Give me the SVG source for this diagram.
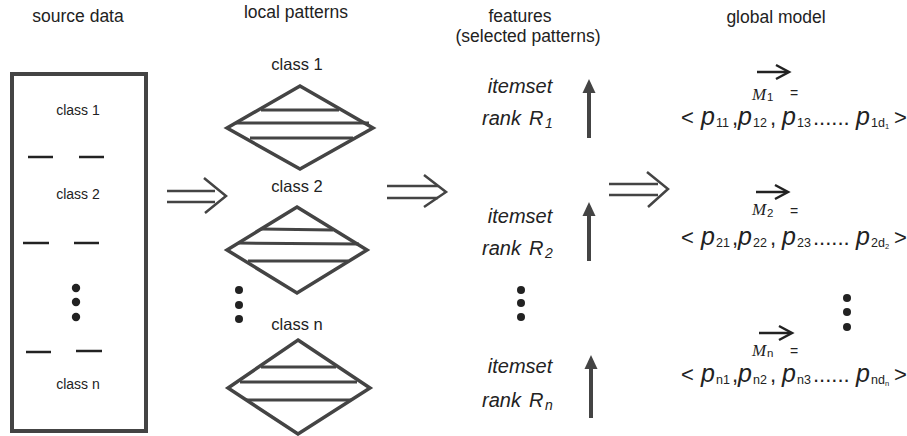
<svg xmlns="http://www.w3.org/2000/svg" width="907" height="436" viewBox="0 0 907 436">
<style>
.t{font-family:"Liberation Sans",Arial,sans-serif;fill:#222}
.ttl{font-size:17.5px}
.bl{font-size:14px}
.dl{font-size:16.5px}
.it{font-size:20px;font-style:italic}
.sub{font-size:14px}
.pp{font-size:25px;font-style:italic}
.ang{font-size:22px}
.ps{font-size:12.5px}
.pss{font-size:7.5px}
.M{font-family:"Liberation Serif","Times New Roman",serif;font-style:italic;font-size:17px;fill:#222}
.eq{font-size:14px}
.shape{fill:none;stroke:#444;stroke-width:3.5;stroke-linejoin:miter}
.hl{stroke:#444;stroke-width:3}
.dash{stroke:#222;stroke-width:2.5}
.dbl{fill:none;stroke:#444;stroke-width:2.5}
.up{stroke:#444;stroke-width:4}
.vec{fill:none;stroke:#222;stroke-width:2.5}
.dot{fill:#222}
.head{fill:#444}
</style>

<g id="titles">
<text class="t ttl" x="78" y="22" text-anchor="middle">source data</text>
<text class="t ttl" x="296" y="18" text-anchor="middle">local patterns</text>
<text class="t ttl" x="520" y="22" text-anchor="middle">features</text>
<text class="t ttl" x="528" y="42" text-anchor="middle">(selected patterns)</text>
<text class="t ttl" x="776" y="23" text-anchor="middle">global model</text>
</g>

<g id="source-data">
<rect x="12" y="74" width="134" height="357" fill="none" stroke="#444" stroke-width="4"/>
<text class="t bl" x="78" y="115" text-anchor="middle">class 1</text>
<line class="dash" x1="28" y1="157" x2="53" y2="157"/>
<line class="dash" x1="79" y1="157" x2="104" y2="157"/>
<text class="t bl" x="78" y="199" text-anchor="middle">class 2</text>
<line class="dash" x1="23" y1="243" x2="49" y2="243"/>
<line class="dash" x1="74" y1="243" x2="99" y2="243"/>
<circle class="dot" cx="76" cy="288" r="4.2"/>
<circle class="dot" cx="76" cy="302" r="4.2"/>
<circle class="dot" cx="76" cy="317" r="4.2"/>
<line class="dash" x1="26" y1="352" x2="51" y2="352"/>
<line class="dash" x1="76" y1="351" x2="102" y2="351"/>
<text class="t bl" x="78" y="389" text-anchor="middle">class n</text>
</g>

<g id="pattern-1">
<text class="t dl" x="297" y="70" text-anchor="middle">class 1</text>
<path class="shape" d="M300,86 L373,128 L300,169 L227,128 Z"/>
<line class="hl" x1="261" y1="110" x2="339" y2="110"/>
<line class="hl" x1="236" y1="123" x2="369" y2="123"/>
<line class="hl" x1="250" y1="138" x2="353" y2="138"/>
</g>

<g id="pattern-2">
<text class="t dl" x="297" y="192" text-anchor="middle">class 2</text>
<path class="shape" d="M297,207 L367,250 L297,293 L227,250 Z"/>
<line class="hl" x1="261" y1="229" x2="333" y2="230"/>
<line class="hl" x1="238" y1="243" x2="359" y2="244"/>
<line class="hl" x1="248" y1="261" x2="348" y2="261"/>
</g>

<g id="pattern-dots">
<circle class="dot" cx="239" cy="290" r="4"/>
<circle class="dot" cx="239" cy="305" r="4"/>
<circle class="dot" cx="239" cy="319" r="4"/>
</g>

<g id="pattern-n">
<text class="t dl" x="297" y="330" text-anchor="middle">class n</text>
<path class="shape" d="M298,340 L370,388 L298,434 L228,388 Z"/>
<line class="hl" x1="261" y1="367" x2="336" y2="367"/>
<line class="hl" x1="240" y1="382" x2="357" y2="382"/>
<line class="hl" x1="246" y1="400" x2="351" y2="400"/>
</g>

<g id="feature-1">
<text class="t it" x="520" y="93" text-anchor="middle">itemset</text>
<text class="t it" x="482" y="125">rank</text>
<text class="t it" x="529" y="125">R</text>
<text class="t it sub" x="545" y="128">1</text>
</g>
<g id="feature-2">
<text class="t it" x="520" y="223" text-anchor="middle">itemset</text>
<text class="t it" x="482" y="255">rank</text>
<text class="t it" x="529" y="255">R</text>
<text class="t it sub" x="545" y="258">2</text>
</g>
<g id="feature-dots">
<circle class="dot" cx="521" cy="290" r="4"/>
<circle class="dot" cx="521" cy="303" r="4"/>
<circle class="dot" cx="521" cy="317" r="4"/>
</g>
<g id="feature-n">
<text class="t it" x="520" y="373" text-anchor="middle">itemset</text>
<text class="t it" x="482" y="407">rank</text>
<text class="t it" x="529" y="407">R</text>
<text class="t it sub" x="545" y="410">n</text>
</g>

<g id="model-1">
<text class="M" x="752" y="100">M</text>
<text class="t" font-size="11.5" x="767" y="101">1</text>
<text class="t eq" x="790" y="98">=</text>
<text class="t" y="125"><tspan class="ang" x="681">&lt;</tspan><tspan class="pp" x="701">p</tspan><tspan class="ps" x="716" dy="2">11</tspan><tspan class="ang" x="732" dy="-2">,</tspan><tspan class="pp" x="738">p</tspan><tspan class="ps" x="753" dy="2">12</tspan><tspan class="ang" x="770" dy="-2">,</tspan><tspan class="pp" x="782">p</tspan><tspan class="ps" x="797" dy="2">13</tspan><tspan class="ang" x="813" dy="-2">......</tspan><tspan class="pp" x="856">p</tspan><tspan class="ps" x="871" dy="2">1d</tspan><tspan class="pss" x="885" dy="2">1</tspan><tspan class="ang" x="894" dy="-4">&gt;</tspan></text>
</g>

<g id="model-2">
<text class="M" x="752" y="215">M</text>
<text class="t" font-size="11.5" x="767" y="217">2</text>
<text class="t eq" x="790" y="216">=</text>
<text class="t" y="245"><tspan class="ang" x="681">&lt;</tspan><tspan class="pp" x="701">p</tspan><tspan class="ps" x="716" dy="2">21</tspan><tspan class="ang" x="732" dy="-2">,</tspan><tspan class="pp" x="738">p</tspan><tspan class="ps" x="753" dy="2">22</tspan><tspan class="ang" x="770" dy="-2">,</tspan><tspan class="pp" x="782">p</tspan><tspan class="ps" x="797" dy="2">23</tspan><tspan class="ang" x="813" dy="-2">......</tspan><tspan class="pp" x="856">p</tspan><tspan class="ps" x="871" dy="2">2d</tspan><tspan class="pss" x="885" dy="2">2</tspan><tspan class="ang" x="894" dy="-4">&gt;</tspan></text>
</g>

<g id="model-dots">
<circle class="dot" cx="847" cy="298" r="4"/>
<circle class="dot" cx="847" cy="312" r="4"/>
<circle class="dot" cx="847" cy="327" r="4"/>
</g>

<g id="model-n">
<text class="M" x="752" y="356">M</text>
<text class="t" font-size="11.5" x="767" y="357">n</text>
<text class="t eq" x="790" y="356">=</text>
<text class="t" y="382"><tspan class="ang" x="681">&lt;</tspan><tspan class="pp" x="701">p</tspan><tspan class="ps" x="716" dy="2">n1</tspan><tspan class="ang" x="732" dy="-2">,</tspan><tspan class="pp" x="738">p</tspan><tspan class="ps" x="753" dy="2">n2</tspan><tspan class="ang" x="770" dy="-2">,</tspan><tspan class="pp" x="782">p</tspan><tspan class="ps" x="797" dy="2">n3</tspan><tspan class="ang" x="813" dy="-2">......</tspan><tspan class="pp" x="856">p</tspan><tspan class="ps" x="871" dy="2">nd</tspan><tspan class="pss" x="885" dy="2">n</tspan><tspan class="ang" x="894" dy="-4">&gt;</tspan></text>
</g>

<g id="connectors">
<line class="dbl" x1="167" y1="191" x2="215" y2="191"/>
<line class="dbl" x1="167" y1="202" x2="215" y2="202"/>
<polyline class="dbl" points="204,178 226,196 205,213"/>
<line class="dbl" x1="387" y1="186" x2="438" y2="186"/>
<line class="dbl" x1="387" y1="198" x2="438" y2="198"/>
<polyline class="dbl" points="424,175 446,192 424,207"/>
<line class="dbl" x1="609" y1="184" x2="658" y2="184"/>
<line class="dbl" x1="609" y1="195" x2="658" y2="195"/>
<polyline class="dbl" points="647,172 668,189 648,207"/>
<line class="up" x1="589" y1="138" x2="589" y2="90"/>
<path class="head" d="M589,79 L595.5,93 L582.5,93 Z"/>
<line class="up" x1="589" y1="261" x2="589" y2="212"/>
<path class="head" d="M589,202 L595.5,216 L582.5,216 Z"/>
<line class="up" x1="591" y1="418" x2="591" y2="365"/>
<path class="head" d="M591,355 L597.5,369 L584.5,369 Z"/>
<line class="vec" x1="757" y1="72" x2="788" y2="72"/>
<polyline class="vec" points="776,65 789,72 776,79"/>
<line class="vec" x1="756" y1="192" x2="787" y2="192"/>
<polyline class="vec" points="775,185 788,192 775,199"/>
<line class="vec" x1="759" y1="333" x2="791" y2="333"/>
<polyline class="vec" points="779,326 792,333 779,340"/>
</g>
</svg>
